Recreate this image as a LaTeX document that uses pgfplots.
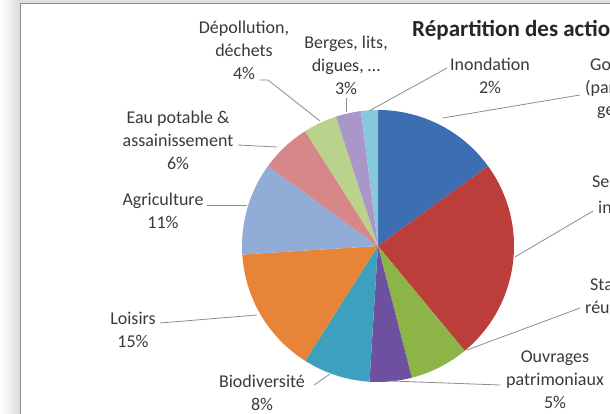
\documentclass[border=0pt]{standalone}
\usepackage{pgfplots}
\pgfplotsset{compat=1.18}
\usepackage{pgfplotstable}
\usepackage{fontspec}
\setmainfont{Carlito}

% Excel-like palette
\definecolor{cBlue}{RGB}{62,110,178}
\definecolor{cRed}{RGB}{188,62,58}
\definecolor{cGreen}{RGB}{140,180,70}
\definecolor{cPurple}{RGB}{110,80,160}
\definecolor{cAqua}{RGB}{60,160,190}
\definecolor{cOrange}{RGB}{232,132,55}
\definecolor{cLBlue}{RGB}{145,172,215}
\definecolor{cLRed}{RGB}{215,135,135}
\definecolor{cLGreen}{RGB}{185,210,140}
\definecolor{cLPurple}{RGB}{170,150,200}
\definecolor{cLAqua}{RGB}{135,200,220}
\definecolor{labeltext}{RGB}{58,58,58}
\definecolor{leader}{RGB}{140,140,140}

\tikzset{
    lbl/.style={font=\fontsize{18}{23}\selectfont, text=labeltext, align=center, inner sep=0pt},
    lead/.style={draw=leader, line width=0.8pt},
}

% shares in %, clockwise from 12 o'clock
\pgfplotstableread{
value colour
15 cBlue
24 cRed
7  cGreen
5  cPurple
8  cAqua
15 cOrange
11 cLBlue
6  cLRed
4  cLGreen
3  cLPurple
2  cLAqua
}\piedata

\begin{document}
\begin{tikzpicture}
\begin{axis}[
    x=1pt, y=1pt,
    xmin=-378, xmax=232,
    ymin=-168, ymax=246,
    hide axis,
]
% window frame
\fill[left color=white, right color=black!14] (axis cs:-378,-168) rectangle (axis cs:-358,246);
\fill[black!12] (axis cs:-358,243) rectangle (axis cs:232,246);
\draw[black!45, line width=1pt] (axis cs:-357.5,-168) -- (axis cs:-357.5,242.5) -- (axis cs:232,242.5);

% slices
\pgfplotstablegetrowsof{\piedata}
\pgfmathtruncatemacro\lastrow{\pgfplotsretval-1}
\def\curang{90}
\pgfplotsforeachungrouped \i in {0,...,\lastrow}{%
  \pgfplotstablegetelem{\i}{value}\of\piedata \let\sliceval\pgfplotsretval
  \pgfplotstablegetelem{\i}{colour}\of\piedata \let\slicecol\pgfplotsretval
  \pgfmathsetmacro\nextang{\curang-3.6*\sliceval}
  \edef\doslice{\noexpand\fill[\slicecol]
    (axis cs:0,0) -- ++(\curang:136pt) arc[start angle=\curang, end angle=\nextang, radius=136pt] -- cycle;}
  \doslice
  \let\curang\nextang
}

% leader lines
\draw[lead] (axis cs:-9,135) -- (axis cs:69,178);
\draw[lead] (axis cs:65,128) -- (axis cs:202,151);
\draw[lead] (axis cs:137,-11) -- (axis cs:215,35);
\draw[lead] (axis cs:89,-104) -- (axis cs:202,-62);
\draw[lead] (axis cs:13,-135) -- (axis cs:122,-139);
\draw[lead] (axis cs:-48,-128) -- (axis cs:-64,-139);
\draw[lead] (axis cs:-121,-69) -- (axis cs:-218,-77);
\draw[lead] (axis cs:-131,41) -- (axis cs:-171,41);
\draw[lead] (axis cs:-101,99) -- (axis cs:-140,101);
\draw[lead] (axis cs:-58,125) -- (axis cs:-110,166) -- (axis cs:-118,166);
\draw[lead] (axis cs:-32,134) -- (axis cs:-32,148);

% labels
\node[lbl] at (axis cs:-134,196) {Dépollution,\\déchets\\4\%};
\node[lbl] at (axis cs:-32,181) {Berges, lits,\\digues, …\\3\%};
\node[lbl] at (axis cs:112,170) {Inondation\\2\%};
\node[lbl] at (axis cs:-200,106) {Eau potable \&\\assainissement\\6\%};
\node[lbl] at (axis cs:-215,35) {Agriculture\\11\%};
\node[lbl] at (axis cs:-245,-84) {Loisirs\\15\%};
\node[lbl] at (axis cs:-116,-147) {Biodiversité\\8\%};
\node[lbl] at (axis cs:177,-134) {Ouvrages\\patrimoniaux\\5\%};
\node[lbl, anchor=west] at (axis cs:212,181) {Gouvernance};
\node[lbl, anchor=west] at (axis cs:207,158) {(partenariat,};
\node[lbl, anchor=west] at (axis cs:219,136) {gestion)};
\node[lbl, anchor=west] at (axis cs:214,64) {Sensibilisation,};
\node[lbl, anchor=west] at (axis cs:220,39) {information};
\node[lbl, anchor=west] at (axis cs:212,-39) {Stations,};
\node[lbl, anchor=west] at (axis cs:207,-61) {réutilisation};

% title
\node[anchor=west, inner sep=0pt, font=\fontsize{23}{28}\bfseries\selectfont, text=black!85] at (axis cs:34,216) {Répartition des actions par thème};
\end{axis}
\pgfresetboundingbox
\useasboundingbox (current axis.south west) rectangle (current axis.north east);
\end{tikzpicture}
\end{document}
